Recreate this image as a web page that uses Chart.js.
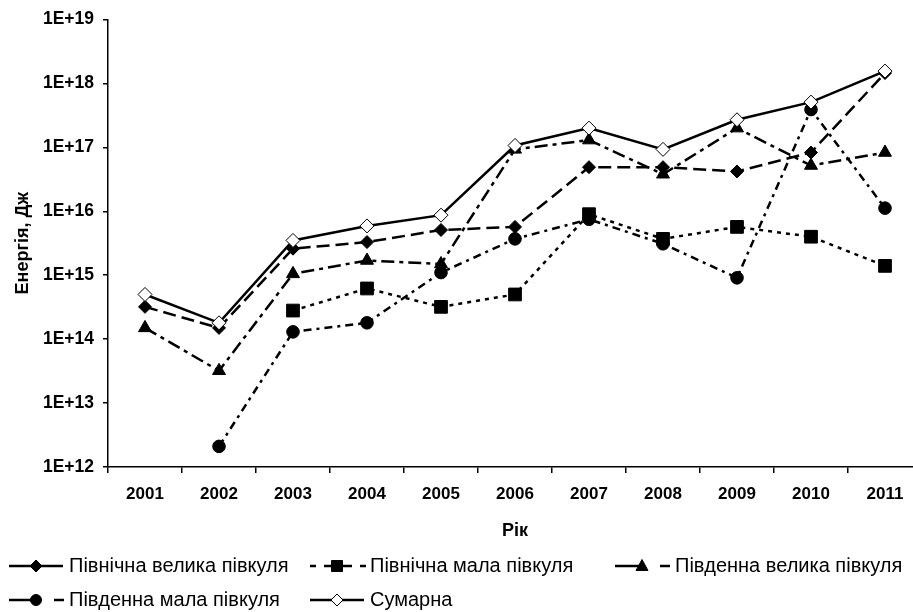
<!DOCTYPE html>
<html>
<head>
<meta charset="utf-8">
<script src="https://cdn.jsdelivr.net/npm/chart.js@4/dist/chart.umd.min.js"></script>
<style>
  html, body { margin: 0; padding: 0; background: #fff; overflow: hidden; }
  #wrap { position: absolute; left: 0; top: 0; width: 924px; height: 612px; }
  #chart { display: block; width: 924px; height: 612px; }
</style>
</head>
<body>
<div id="wrap"><canvas id="chart" width="924" height="612"></canvas></div>
<script>
// роки
const years = ["2001", "2002", "2003", "2004", "2005", "2006", "2007", "2008", "2009", "2010", "2011"];

// енергія, Дж
const pivnVelyka = [3.2e14, 1.5e14, 2.6e15, 3.3e15, 5.1e15, 5.7e15, 4.9e16, 4.9e16, 4.2e16, 8.3e16, 1.45e18];
const pivnMala   = [null, null, 2.8e14, 6.2e14, 3.2e14, 5.0e14, 9.0e15, 3.7e15, 5.7e15, 4.0e15, 1.4e15];
const pivdVelyka = [1.5e14, 3.2e13, 1.05e15, 1.7e15, 1.5e15, 9.3e16, 1.3e17, 3.8e16, 2.0e17, 5.2e16, 8.3e16];
const pivdMala   = [null, 2.1e12, 1.3e14, 1.8e14, 1.1e15, 3.7e15, 7.5e15, 3.1e15, 9.1e14, 3.9e17, 1.12e16];
const sumarna    = [5.0e14, 1.8e14, 3.5e15, 5.9e15, 8.7e15, 1.07e17, 2.0e17, 9.3e16, 2.7e17, 5.1e17, 1.56e18];

// підписи осі Y
const yExponents = [12, 13, 14, 15, 16, 17, 18, 19];
const yTickLabels = ["1E+12", "1E+13", "1E+14", "1E+15", "1E+16", "1E+17", "1E+18", "1E+19"];

const FONT = "'Liberation Sans', Arial, sans-serif";

function series(label, data, dash, pointStyle, radius, fill, order) {
  return {
    label, data, order,
    borderColor: "#000",
    borderWidth: 2.5,
    borderDash: dash,
    pointStyle,
    pointRadius: radius,
    pointBackgroundColor: fill,
    pointBorderColor: "#000",
    pointBorderWidth: 1,
    tension: 0,
    fill: false,
  };
}

const datasets = [
  series("Північна велика півкуля", pivnVelyka, [13, 6], "rectRot", 6.5, "#000", 3),
  series("Північна мала півкуля", pivnMala, [4, 5], "rect", 9, "#000", 4),
  series("Південна велика півкуля", pivdVelyka, [13, 5, 4, 5], "triangle", 7.5, "#000", 2),
  series("Південна мала півкуля", pivdMala, [8, 5, 3, 5], "circle", 6.3, "#000", 1),
  series("Сумарна", sumarna, [], "rectRot", 7, "#fff", 0),
];

// легенда в стилі Excel: лінія з маркером посередині
const legendPlugin = {
  id: "excelLegend",
  afterDraw(chart) {
    const ctx = chart.ctx;
    const slots = [
      { x: 9, y: 566 }, { x: 310, y: 566 }, { x: 615, y: 566 },
      { x: 9, y: 600 }, { x: 310, y: 600 },
    ];
    const seg = (x1, x2, y) => { ctx.beginPath(); ctx.moveTo(x1, y); ctx.lineTo(x2, y); ctx.stroke(); };
    chart.data.datasets.forEach((ds, i) => {
      const s = slots[i];
      const mx = s.x + 27;
      const y = s.y;
      ctx.save();
      ctx.strokeStyle = "#000";
      ctx.lineWidth = 2.5;
      const dash = ds.borderDash;
      if (dash.length === 2 && dash[0] < 6) {
        // короткий пунктир з обох боків
        seg(s.x, s.x + 6, y); seg(s.x + 14, mx, y);
        seg(mx, s.x + 42, y); seg(s.x + 50, s.x + 56, y);
      } else if (dash.length === 4) {
        // довгий штрих ліворуч, короткий праворуч
        seg(s.x, mx, y);
        seg(mx + 18, mx + 28, y);
      } else {
        seg(s.x, s.x + 54, y);
      }
      ctx.lineWidth = 1;
      ctx.fillStyle = ds.pointBackgroundColor;
      ctx.beginPath();
      const r = 6;
      if (ds.pointStyle === "rectRot") {
        ctx.moveTo(mx, y - r); ctx.lineTo(mx + r, y); ctx.lineTo(mx, y + r); ctx.lineTo(mx - r, y); ctx.closePath();
      } else if (ds.pointStyle === "rect") {
        ctx.rect(mx - 5.5, y - 5.5, 11, 11);
      } else if (ds.pointStyle === "triangle") {
        ctx.moveTo(mx, y - 6.5); ctx.lineTo(mx + 6, y + 4.5); ctx.lineTo(mx - 6, y + 4.5); ctx.closePath();
      } else {
        ctx.arc(mx, y, 5.5, 0, Math.PI * 2);
      }
      ctx.fill();
      ctx.stroke();
      ctx.fillStyle = "#000";
      ctx.font = "20px " + FONT;
      ctx.textBaseline = "middle";
      ctx.textAlign = "left";
      ctx.fillText(ds.label, s.x + 60, y);
      ctx.restore();
    });
  },
};

new Chart(document.getElementById("chart").getContext("2d"), {
  type: "line",
  data: { labels: years, datasets },
  options: {
    responsive: false,
    animation: false,
    layout: { autoPadding: false, padding: { left: 0, right: 2, top: 16, bottom: 70 } },
    plugins: { legend: { display: false }, tooltip: { enabled: false } },
    scales: {
      x: {
        type: "category",
        offset: true,
        grid: { display: true, offset: true, drawOnChartArea: false, drawTicks: true, tickLength: 6, color: "#000", lineWidth: 1.5 },
        border: { display: true, color: "#000", width: 1.5 },
        ticks: { color: "#000", font: { family: FONT, size: 17, weight: "bold" }, padding: 11, maxRotation: 0, autoSkip: false },
        title: { display: true, text: "Рік", color: "#000", font: { family: FONT, size: 18, weight: "bold" }, padding: { top: 0, bottom: 0 } },
        afterFit: (scale) => { scale.height = 75; scale.paddingLeft = 0; scale.paddingRight = 0; },
      },
      y: {
        type: "logarithmic",
        min: 1e12,
        max: 1e19,
        grid: { display: true, drawOnChartArea: false, drawTicks: true, tickLength: 5, color: "#000", lineWidth: 1.5 },
        border: { display: true, color: "#000", width: 1.5 },
        afterBuildTicks: (scale) => { scale.ticks = yExponents.map(e => ({ value: Math.pow(10, e) })); },
        ticks: {
          color: "#000",
          font: { family: FONT, size: 17.5, weight: "bold" },
          padding: 9,
          callback: (v) => yTickLabels[yExponents.indexOf(Math.round(Math.log10(v)))],
        },
        title: { display: true, text: "Енергія, Дж", color: "#000", font: { family: FONT, size: 18, weight: "bold" }, padding: { top: 12, bottom: 0 } },
        afterFit: (scale) => { scale.width = 108; },
      },
    },
  },
  plugins: [legendPlugin],
});
</script>
</body>
</html>
